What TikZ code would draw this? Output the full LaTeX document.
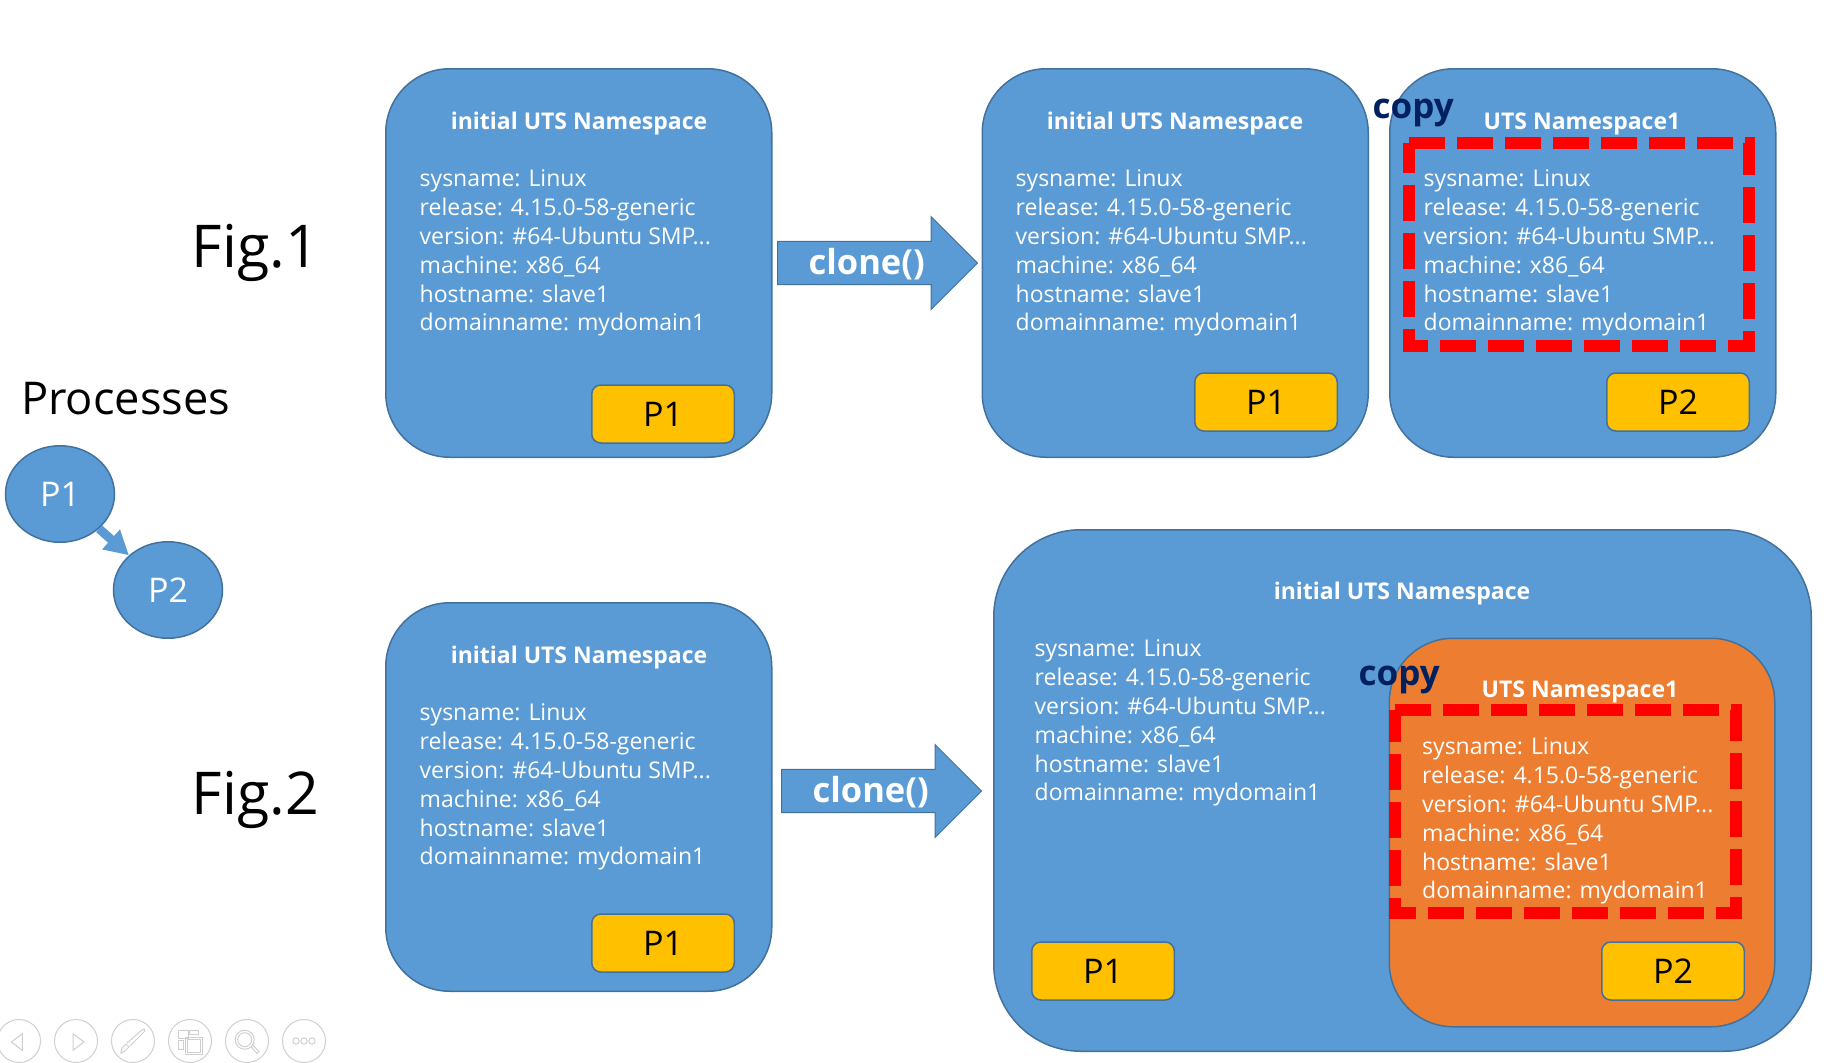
\documentclass[tikz,border=0pt]{standalone}
\usepackage{xcolor}
\usepackage{fontspec}
\setmainfont{Open Sans}
\usetikzlibrary{shapes.arrows,shapes.geometric,arrows.meta}
\definecolor{nsblue}{HTML}{5B9BD5}
\definecolor{nsline}{HTML}{41719C}
\definecolor{nsorange}{HTML}{ED7D31}
\definecolor{pyellow}{HTML}{FFC000}
\definecolor{copynavy}{HTML}{002060}
\definecolor{navgray}{HTML}{CFCFCF}
\newcommand{\utsinfo}{sysname: Linux\\release: 4.15.0-58-generic\\version: \#64-Ubuntu SMP...\\machine: x86\_64\\hostname: slave1\\domainname: mydomain1}
\begin{document}
\begin{tikzpicture}[x=1pt,y=-1pt,
nsbox/.style={rectangle,draw=nsline,line width=1.5pt,fill=#1,anchor=north west,rounded corners=64pt,minimum width=386pt,minimum height=388.5pt,inner sep=0pt},
nstitle/.style={text=white,font=\fontsize{23}{27}\selectfont\bfseries,anchor=base,inner sep=0pt},
nsinfo/.style={text=white,font=\fontsize{23}{28.9}\selectfont,align=left,anchor=north west,inner sep=0pt},
procbox/.style={rectangle,draw=nsline,line width=1.5pt,fill=pyellow,rounded corners=9pt,minimum width=142.5pt,minimum height=58pt,inner sep=0pt,font=\fontsize{34}{40}\selectfont},
procnode/.style={ellipse,draw=nsline,line width=1.5pt,fill=nsblue,text=white,minimum width=109pt,minimum height=96.5pt,inner sep=0pt,font=\fontsize{34}{40}\selectfont},
clonearrow/.style={single arrow,single arrow head extend=23pt,single arrow head indent=0pt,draw=nsline,line width=1pt,fill=nsblue,text=white,minimum height=200pt,minimum width=93pt,inner sep=0pt,anchor=tail,text height=31pt,text depth=8pt,font=\fontsize{34.5}{40}\selectfont\bfseries},
copytag/.style={text=copynavy,font=\fontsize{35}{42}\selectfont\bfseries,anchor=base west,inner sep=0pt},
figtag/.style={font=\fontsize{59}{69}\selectfont,anchor=base west,inner sep=0pt},
navbtn/.style={circle,draw=navgray,line width=1pt,minimum size=43pt,inner sep=0pt},
navicon/.style={draw=navgray,line width=1pt},
copyframe/.style={draw=red,line width=12pt,dash pattern=on 36pt off 12pt}]
\useasboundingbox (0,0) rectangle (1848,1063);

\node[figtag] (figa) at (191.5,267) {Fig.1};
\node[figtag] (figb) at (191.5,814) {Fig.2};
\node[figtag,font=\fontsize{45.2}{54}\selectfont] (proctitle) at (21,414) {Processes};

% process tree
\node[procnode] (pa) at (60,494) {P1};
\node[procnode] (pb) at (168,590) {P2};
\draw[nsblue,line width=9pt,-{Triangle[length=24pt,width=25pt]}] (pa) -- (pb);

% Fig.1 before clone
\node[nsbox=nsblue] (nsa) at (385,68) {};
\node[nstitle] (titlea) at (579,129) {initial UTS Namespace};
\node[nsinfo] (infoa) at (419.5,169.4) {\utsinfo};
\node[procbox] (boxa) at (663,414) {P1};

\node[clonearrow] (clonea) at (777,263) {clone()\hspace{11pt}};

% Fig.1 after clone
\node[nsbox=nsblue] (nsb) at (981.5,68) {};
\node[nstitle] (titleb) at (1175,129) {initial UTS Namespace};
\node[nsinfo] (infob) at (1015.5,169.4) {\utsinfo};
\node[procbox] (boxb) at (1266,402) {P1};

\node[nsbox=nsblue] (nsc) at (1389,68) {};
\node[nstitle] (titlec) at (1582,129) {UTS Namespace1};
\node[nsinfo] (infoc) at (1423.5,169.4) {\utsinfo};
\node[procbox] (boxc) at (1678,402) {P2};
\draw[copyframe] (1409,143) -- (1749,143) -- (1749,346) -- (1409,346) -- cycle;
\node[copytag] (copya) at (1372.5,118) {copy};

% Fig.2 before clone
\node[nsbox=nsblue] (nsd) at (385,602) {};
\node[nstitle] (titled) at (579,663) {initial UTS Namespace};
\node[nsinfo] (infod) at (419.5,703.4) {\utsinfo};
\node[procbox] (boxd) at (663,943) {P1};

\node[clonearrow] (cloneb) at (781,791) {clone()\hspace{11pt}};

% Fig.2 after clone
\node[nsbox=nsblue,rounded corners=87pt,minimum width=817.5pt,minimum height=521.5pt] (nse) at (993,529) {};
\node[nstitle] (titlee) at (1402,599) {initial UTS Namespace};
\node[nsinfo] (infoe) at (1034.5,639.4) {\utsinfo};
\node[procbox] (boxe) at (1103,971) {P1};

\node[nsbox=nsorange,minimum width=385.5pt,minimum height=388.5pt] (nsf) at (1388.5,637.5) {};
\node[nstitle] (titlef) at (1580,697.5) {UTS Namespace1};
\node[nsinfo] (infof) at (1422,737.4) {\utsinfo};
\node[procbox] (boxf) at (1673,971) {P2};
\draw[copyframe] (1395,710) -- (1736,710) -- (1736,913) -- (1395,913) -- cycle;
\node[copytag] (copyb) at (1358.5,685) {copy};

% slide show buttons
\foreach \ix/\cx in {1/19,2/76,3/133,4/190,5/247,6/304}
  \node[navbtn] (nav\ix) at (\cx,1041) {};
\begin{scope}[shift={(nav1.center)}]
\draw[navicon] (3.3,-7.3) -- (3.3,9.3) -- (-7.7,1) -- cycle;
\end{scope}
\begin{scope}[shift={(nav2.center)}]
\draw[navicon] (-3,-7.3) -- (-3,9.3) -- (8,1) -- cycle;
\end{scope}
\begin{scope}[shift={(nav3.center)}]
\draw[navicon] (-12,12) -- (-11,7) -- (-7,3) -- (-4,6) -- (-8,10) -- cycle;
\draw[navicon] (-6,2) -- (9,-11) .. controls (11,-13) and (13,-11) .. (11,-9) -- (-3,5);
\end{scope}
\begin{scope}[shift={(nav4.center)}]
\draw[navicon] (-12,-11) rectangle (-2,-2.5);
\draw[navicon] (-1,-11) rectangle (8,-6.5);
\draw[navicon] (-12,-0.7) rectangle (-7,8);
\draw[navicon] (-5,-3.3) rectangle (12,13.3);
\draw[navicon] (-3,-1.3) rectangle (10,11);
\end{scope}
\begin{scope}[shift={(nav5.center)}]
\draw[navicon] (-2.3,-1.3) circle[radius=9.5];
\draw[navicon] (-2.3,-1.3) circle[radius=7];
\draw[navicon] (4.3,6) -- (10,12.5) -- (12,10.5) -- (6,4.3);
\end{scope}
\begin{scope}[shift={(nav6.center)}]
\foreach \dx in {-8,0,8}
  \draw[navicon] (\dx,0) circle[radius=3.2];
\end{scope}
\end{tikzpicture}
\end{document}
